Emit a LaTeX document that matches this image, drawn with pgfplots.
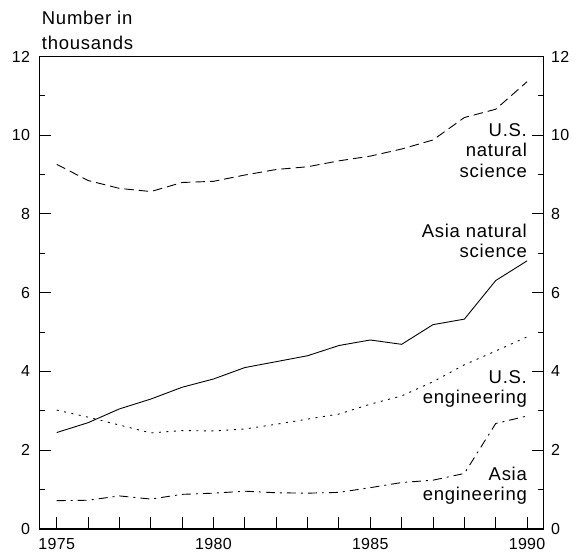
\documentclass[border=0pt]{standalone}
\usepackage{pgfplots}
\pgfplotsset{compat=1.18}
\usepackage{fontspec}
\setmainfont{Liberation Sans}
\newfontfamily\labfont[LetterSpace=4]{Liberation Sans}
\newfontfamily\tickfont[LetterSpace=2]{Liberation Sans}
\newcommand{\lf}{\labfont\fontsize{18.5}{21}\selectfont}
\newcommand{\tf}{\tickfont\fontsize{16}{19}\selectfont}
\begin{document}
\begin{tikzpicture}
\useasboundingbox (-39.5pt,-27pt) rectangle (536.5pt,529pt);
\begin{axis}[
  at={(0pt,0pt)}, anchor=south west,
  scale only axis, width=504.2pt, height=472.5pt,
  xmin=1974.45, xmax=1990.53, ymin=0, ymax=12,
  clip=false,
  axis line style={line width=1.1pt},
  xtick={1975,1976,...,1990},
  xticklabels={1975,,,,,1980,,,,,1985,,,,,1990},
  xtick pos=bottom,
  ytick={0,2,...,12},
  minor ytick={1,3,...,11},
  major tick length=12pt, minor tick length=6pt,
  tick style={line width=1pt, black},
  /pgf/number format/assume math mode=true,
  tick label style={font=\tf},
  xticklabel style={yshift=-6pt},
  yticklabel style={xshift=-6pt},
]
\addplot[black, line width=0.9pt, dash pattern=on 9.5pt off 5pt] coordinates {
(1975,9.26)(1976,8.85)(1977,8.65)(1978,8.57)(1979,8.80)(1980,8.83)(1981,8.99)(1982,9.13)
(1983,9.20)(1984,9.35)(1985,9.47)(1986,9.65)(1987,9.88)(1988,10.45)(1989,10.66)(1990,11.36)};
\addplot[black, line width=0.9pt] coordinates {
(1975,2.45)(1976,2.70)(1977,3.05)(1978,3.30)(1979,3.60)(1980,3.81)(1981,4.10)(1982,4.25)
(1983,4.40)(1984,4.66)(1985,4.80)(1986,4.69)(1987,5.19)(1988,5.33)(1989,6.31)(1990,6.81)};
\addplot[black, line width=0.9pt, dash pattern=on 2pt off 5.5pt] coordinates {
(1975,3.02)(1976,2.84)(1977,2.64)(1978,2.44)(1979,2.50)(1980,2.49)(1981,2.54)(1982,2.66)
(1983,2.79)(1984,2.92)(1985,3.17)(1986,3.38)(1987,3.74)(1988,4.17)(1989,4.52)(1990,4.88)};
\addplot[black, line width=0.9pt, dash pattern=on 9pt off 5pt on 2pt off 5pt] coordinates {
(1975,0.72)(1976,0.73)(1977,0.84)(1978,0.76)(1979,0.88)(1980,0.91)(1981,0.96)(1982,0.92)
(1983,0.91)(1984,0.93)(1985,1.05)(1986,1.18)(1987,1.24)(1988,1.41)(1989,2.68)(1990,2.87)};
\node[anchor=base west, inner sep=0pt, font=\lf] at (axis cs:1974.52,12.80) {Number in};
\node[anchor=base west, inner sep=0pt, font=\lf] at (axis cs:1974.52,12.19) {thousands};
\node[anchor=base east, inner sep=0pt, font=\lf] at (axis cs:1990,9.98) {U.S.};
\node[anchor=base east, inner sep=0pt, font=\lf] at (axis cs:1990,9.455) {natural};
\node[anchor=base east, inner sep=0pt, font=\lf] at (axis cs:1990,8.93) {science};
\node[anchor=base east, inner sep=0pt, font=\lf] at (axis cs:1990,7.41) {Asia natural};
\node[anchor=base east, inner sep=0pt, font=\lf] at (axis cs:1990,6.90) {science};
\node[anchor=base east, inner sep=0pt, font=\lf] at (axis cs:1990,3.70) {U.S.};
\node[anchor=base east, inner sep=0pt, font=\lf] at (axis cs:1990,3.19) {engineering};
\node[anchor=base east, inner sep=0pt, font=\lf] at (axis cs:1990,1.227) {Asia};
\node[anchor=base east, inner sep=0pt, font=\lf] at (axis cs:1990,0.72) {engineering};
\end{axis}
\begin{axis}[
  at={(0pt,0pt)}, anchor=south west,
  scale only axis, width=504.2pt, height=472.5pt,
  xmin=1974.45, xmax=1990.53, ymin=0, ymax=12,
  hide x axis,
  y axis line style={draw=none},
  ytick={0,2,...,12},
  ytick style={draw=none},
  yticklabel pos=right,
  /pgf/number format/assume math mode=true,
  tick label style={font=\tf},
  yticklabel style={xshift=4pt},
]
\end{axis}
\end{tikzpicture}
\end{document}
